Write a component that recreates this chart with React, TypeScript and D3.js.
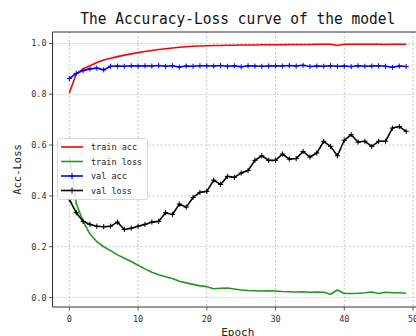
import React from "react";
import * as d3 from "d3";

const epochs: number[] = d3.range(50);
const trainAcc = [0.805,0.880,0.900,0.912,0.925,0.935,0.942,0.948,0.954,0.959,0.964,0.968,0.972,0.976,0.979,0.982,0.985,0.987,0.989,0.990,0.991,0.992,0.992,0.993,0.993,0.994,0.994,0.994,0.995,0.995,0.995,0.995,0.996,0.996,0.996,0.996,0.997,0.997,0.997,0.992,0.997,0.997,0.997,0.997,0.997,0.997,0.996,0.997,0.997,0.997];
const trainLoss = [0.56,0.37,0.30,0.25,0.22,0.20,0.185,0.168,0.155,0.142,0.127,0.113,0.100,0.090,0.082,0.075,0.064,0.058,0.052,0.046,0.043,0.035,0.037,0.038,0.034,0.030,0.028,0.027,0.026,0.027,0.026,0.024,0.023,0.022,0.023,0.021,0.022,0.021,0.013,0.030,0.016,0.016,0.017,0.019,0.022,0.016,0.021,0.019,0.019,0.017];
const valAcc = [0.862,0.882,0.893,0.900,0.903,0.896,0.910,0.911,0.910,0.912,0.911,0.912,0.911,0.913,0.910,0.912,0.907,0.911,0.910,0.912,0.912,0.911,0.913,0.910,0.912,0.908,0.912,0.911,0.910,0.911,0.912,0.911,0.913,0.911,0.914,0.909,0.911,0.910,0.912,0.910,0.911,0.909,0.912,0.910,0.911,0.912,0.910,0.906,0.911,0.909];
const valLoss = [0.386,0.334,0.300,0.288,0.281,0.279,0.281,0.297,0.268,0.273,0.281,0.288,0.297,0.300,0.334,0.327,0.368,0.356,0.394,0.414,0.418,0.462,0.445,0.477,0.473,0.490,0.500,0.540,0.558,0.540,0.540,0.565,0.545,0.547,0.575,0.553,0.569,0.615,0.595,0.558,0.619,0.641,0.612,0.615,0.595,0.615,0.615,0.667,0.673,0.654];
const xTicks = [0, 10, 20, 30, 40, 50];
const yTicks = [0.0, 0.2, 0.4, 0.6, 0.8, 1.0];
const seriesNames = ["train acc", "train loss", "val acc", "val loss"];

const W = 416, H = 336;
const L = 52.5, R = 423, T = 32, B = 307;
const FONT = "'DejaVu Sans Mono', monospace";

export default function App() {
  const x = d3.scaleLinear().domain([-2.45, 51.45]).range([L, R]);
  const y = d3.scaleLinear().domain([-0.037, 1.045]).range([B, T]);
  const line = (vals: number[]) =>
    d3.line<number>().x((_, i) => x(epochs[i])).y((v) => y(v))(vals) || "";

  const series = [
    { name: seriesNames[0], vals: trainAcc, color: "#ff0000", marker: false },
    { name: seriesNames[1], vals: trainLoss, color: "#1e9a1e", marker: false },
    { name: seriesNames[2], vals: valAcc, color: "#0000ff", marker: true },
    { name: seriesNames[3], vals: valLoss, color: "#000000", marker: true },
  ];
  const plus = (cx: number, cy: number, s = 2.6) =>
    `M${cx - s},${cy}H${cx + s}M${cx},${cy - s}V${cy + s}`;

  return (
    <svg width={W} height={H} style={{ position: "fixed", left: 0, top: 0, background: "#fff" }}>
      <defs>
        <clipPath id="plot">
          <rect x={L} y={T} width={R - L} height={B - T} />
        </clipPath>
      </defs>
      <rect x={0} y={0} width={W} height={H} fill="#fff" />
      {/* grid */}
      <g stroke="#b8b8b8" strokeWidth={0.8} strokeDasharray="2,2">
        {xTicks.map((t) => (
          <line key={"gx" + t} x1={x(t)} x2={x(t)} y1={T} y2={B} />
        ))}
        {yTicks.map((t) => (
          <line key={"gy" + t} x1={L} x2={R} y1={y(t)} y2={y(t)} />
        ))}
      </g>
      {/* series */}
      <g clipPath="url(#plot)" fill="none">
        {series.map((s) => (
          <g key={s.name}>
            <path d={line(s.vals)} stroke={s.color} strokeWidth={1.6} strokeLinejoin="round" />
            {s.marker && (
              <path
                d={s.vals.map((v, i) => plus(x(epochs[i]), y(v))).join("")}
                stroke={s.color}
                strokeWidth={1}
              />
            )}
          </g>
        ))}
      </g>
      {/* spines */}
      <g stroke="#333" strokeWidth={1} fill="none">
        <line x1={L} x2={L} y1={T} y2={B} />
        <line x1={L} x2={R} y1={B} y2={B} />
        <line x1={L} x2={R} y1={T} y2={T} />
        <line x1={R} x2={R} y1={T} y2={B} />
      </g>
      {/* ticks */}
      <g stroke="#333" strokeWidth={0.8}>
        {xTicks.map((t) => (
          <line key={"tx" + t} x1={x(t)} x2={x(t)} y1={B} y2={B + 3.5} />
        ))}
        {yTicks.map((t) => (
          <line key={"ty" + t} x1={L - 3.5} x2={L} y1={y(t)} y2={y(t)} />
        ))}
      </g>
      <g fontFamily={FONT} fontSize={8.5} fill="#333">
        {xTicks.map((t) => (
          <text key={"lx" + t} x={x(t)} y={B + 14.5} textAnchor="middle">
            {t}
          </text>
        ))}
        {yTicks.map((t) => (
          <text key={"ly" + t} x={L - 6} y={y(t)} textAnchor="end" dominantBaseline="central">
            {t.toFixed(1)}
          </text>
        ))}
      </g>
      {/* labels */}
      <text x={(L + R) / 2} y={24} textAnchor="middle" fontFamily={FONT} fontSize={15} textLength={315} lengthAdjust="spacingAndGlyphs" fill="#111">
        The Accuracy-Loss curve of the model
      </text>
      <text x={(L + R) / 2} y={336} textAnchor="middle" fontFamily={FONT} fontSize={11} fill="#222">
        Epoch
      </text>
      <text transform={`translate(21,${(T + B) / 2}) rotate(-90)`} textAnchor="middle" fontFamily={FONT} fontSize={10.5} fill="#222">
        Acc-Loss
      </text>
      {/* legend */}
      <g>
        <rect x={57.5} y={138.5} width={90} height={61} rx={2.5} fill="#fff" fillOpacity={0.85} stroke="#cfcfcf" strokeWidth={0.8} />
        {series.map((s, i) => {
          const ly = 147 + i * 14.5;
          return (
            <g key={"lg" + s.name}>
              <line x1={61} x2={83} y1={ly} y2={ly} stroke={s.color} strokeWidth={1.6} />
              {s.marker && <path d={plus(72, ly, 3)} stroke={s.color} strokeWidth={1} />}
              <text x={91} y={ly} dominantBaseline="central" fontFamily={FONT} fontSize={8.5} fill="#222">
                {s.name}
              </text>
            </g>
          );
        })}
      </g>
    </svg>
  );
}
